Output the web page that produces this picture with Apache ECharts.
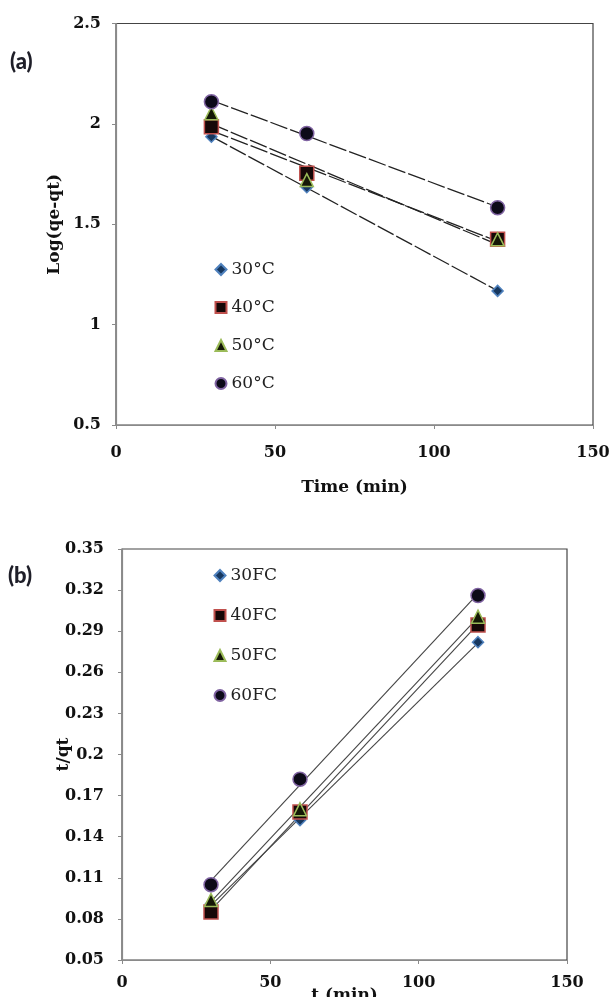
<!DOCTYPE html>
<html><head><meta charset="utf-8">
<script src="https://cdn.jsdelivr.net/npm/echarts@6/dist/echarts.min.js"></script>
<style>html,body{margin:0;padding:0;background:#fff}#c{width:615px;height:997px}</style>
</head><body><div id="c"></div>
<script>
// ---- data ----
const namesA = ['30°C', '40°C', '50°C', '60°C'];
const namesB = ['30FC', '40FC', '50FC', '60FC'];
const timeA = [30, 60, 120];
const logA30 = [1.936, 1.684, 1.168];
const logA40 = [1.986, 1.754, 1.425];
const logA50 = [2.053, 1.720, 1.425];
const logA60 = [2.110, 1.952, 1.582];
const timeB = [30, 60, 120];
const tqB30 = [0.091, 0.152, 0.282];
const tqB40 = [0.085, 0.158, 0.2945];
const tqB50 = [0.0938, 0.160, 0.3006];
const tqB60 = [0.105, 0.182, 0.316];
const xTicks = [0, 50, 100, 150];
const yTicksA = [0.5, 1, 1.5, 2, 2.5];
const yTicksB = [0.05, 0.08, 0.11, 0.14, 0.17, 0.2, 0.23, 0.26, 0.29, 0.32, 0.35];

// ---- styles ----
const symbols = ['diamond', 'rect', 'triangle', 'circle'];
const sizes = [11, 14, 13, 14];
const fills = ['#17375e', '#160808', '#141806', '#0c0a18'];
const borders = ['#4f81bd', '#c0504d', '#9bbb59', '#8064a2'];

function zip(xs, ys) { return xs.map((x, i) => [x, ys[i]]); }
function trend(xs, ys) {
  const n = xs.length;
  const mx = xs.reduce((a, b) => a + b, 0) / n;
  const my = ys.reduce((a, b) => a + b, 0) / n;
  let sxy = 0, sxx = 0;
  for (let i = 0; i < n; i++) { sxy += (xs[i] - mx) * (ys[i] - my); sxx += (xs[i] - mx) * (xs[i] - mx); }
  const b = sxy / sxx, a = my - b * mx;
  return [[xs[0], a + b * xs[0]], [xs[n - 1], a + b * xs[n - 1]]];
}

const serif = 'DejaVu Serif';
const labelStyle = { fontFamily: serif, fontWeight: 'bold', fontSize: 16, color: '#111' };
const nameStyle = { fontFamily: serif, fontWeight: 'bold', fontSize: 17, color: '#111' };

const seriesList = [];
function addPanel(idx, names, xs, ysList, lineStyle) {
  ysList.forEach((ys, i) => {
    seriesList.push({
      type: 'line', xAxisIndex: idx, yAxisIndex: idx, name: 'trend' + idx + '_' + i,
      data: trend(xs, ys), symbol: 'none', silent: true, z: 2, lineStyle: lineStyle
    });
  });
  ysList.forEach((ys, i) => {
    seriesList.push({
      type: 'scatter', xAxisIndex: idx, yAxisIndex: idx, name: names[i],
      data: zip(xs, ys), symbol: symbols[i], symbolSize: sizes[i], z: 3,
      itemStyle: { color: fills[i], borderColor: borders[i], borderWidth: 1.5, opacity: 1 }
    });
  });
}
addPanel(0, namesA, timeA, [logA30, logA40, logA50, logA60], { color: '#222', width: 1.3, type: [18, 3] });
addPanel(1, namesB, timeB, [tqB30, tqB40, tqB50, tqB60], { color: '#444', width: 1.1 });

function xAxisCfg(gridIndex, name, nameGap, margin) {
  return {
    type: 'value', gridIndex: gridIndex, min: 0, max: 150,
    name: name, nameLocation: 'middle', nameGap: nameGap, nameMoveOverlap: false, nameTextStyle: nameStyle,
    axisLine: { show: true, onZero: false, lineStyle: { color: '#8a8a8a', width: 1.2 } },
    axisTick: { show: true, inside: false, length: 4, lineStyle: { color: '#8a8a8a' }, customValues: xTicks },
    axisLabel: Object.assign({ margin: margin, customValues: xTicks }, labelStyle),
    splitLine: { show: false }
  };
}
function yAxisCfg(gridIndex, min, max, ticks, name, nameGap, margin) {
  return {
    type: 'value', gridIndex: gridIndex, min: min, max: max,
    name: name, nameLocation: 'middle', nameGap: nameGap, nameRotate: 90, nameMoveOverlap: false, nameTextStyle: nameStyle,
    axisLine: { show: true, onZero: false, lineStyle: { color: '#8a8a8a', width: 1.2 } },
    axisTick: { show: true, inside: false, length: 4, lineStyle: { color: '#8a8a8a' }, customValues: ticks },
    axisLabel: Object.assign({ margin: margin, customValues: ticks }, labelStyle),
    splitLine: { show: false }
  };
}

function legendCfg(names, left, top, gap) {
  return {
    data: names.map((n, i) => ({ name: n, icon: symbols[i] })),
    orient: 'vertical', left: left, top: top, itemWidth: 11, itemHeight: 11, itemGap: gap,
    padding: 0, selectedMode: false,
    textStyle: { fontFamily: serif, fontSize: 17, color: '#222', lineHeight: 18 }
  };
}

const chart = echarts.init(document.getElementById('c'), null, { renderer: 'canvas' });
chart.setOption({
  animation: false,
  backgroundColor: '#fff',
  grid: [
    { left: 116, right: 22, top: 23.5, height: 401.5, outerBoundsMode: 'none', containLabel: false, show: true, borderColor: '#444', borderWidth: 1.2, backgroundColor: 'transparent' },
    { left: 122, right: 48, top: 549, height: 411, outerBoundsMode: 'none', containLabel: false, show: true, borderColor: '#444', borderWidth: 1.2, backgroundColor: 'transparent' }
  ],
  xAxis: [
    xAxisCfg(0, 'Time (min)', 54, 20),
    xAxisCfg(1, 't (min)', 27, 15)
  ],
  yAxis: [
    yAxisCfg(0, 0.5, 2.5, yTicksA, 'Log(qe-qt)', 53, 15),
    yAxisCfg(1, 0.05, 0.35, yTicksB, 't/qt', 50, 18)
  ],
  legend: [
    legendCfg(namesA, 214.5, 260.5, 20),
    legendCfg(namesB, 213.5, 566.5, 22)
  ],
  graphic: [
    { type: 'text', left: 10, top: 51, style: { text: '(a)', font: '900 22px Lato', fill: '#1e1e28' } },
    { type: 'text', left: 8, top: 565, style: { text: '(b)', font: '900 22px Lato', fill: '#1e1e28' } }
  ],
  series: seriesList
});
</script>
</body></html>
